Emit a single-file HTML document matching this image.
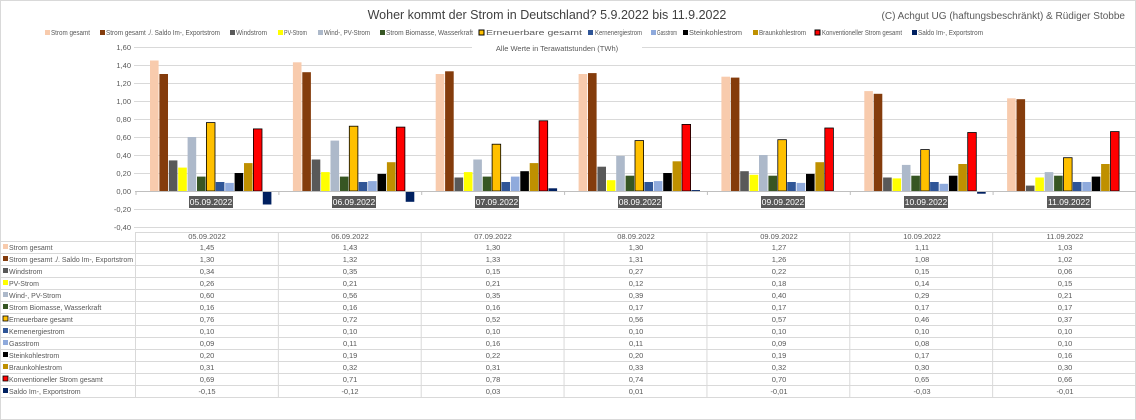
<!DOCTYPE html>
<html><head><meta charset="utf-8"><style>
body{margin:0;background:#fff;}
svg{display:block;font-family:"Liberation Sans",sans-serif;}
</style></head><body>
<svg id="s" width="1136" height="420" viewBox="0 0 1136 420">
<rect x="0.5" y="0.5" width="1135" height="419" fill="#fff" stroke="#d9d9d9"/>
<text x="547" y="19" font-size="12.5" text-anchor="middle" fill="#404040">Woher kommt der Strom in Deutschland? 5.9.2022 bis 11.9.2022</text>
<text x="1125" y="19" font-size="10" text-anchor="end" fill="#595959">(C) Achgut UG (haftungsbeschränkt) &amp; Rüdiger Stobbe</text>
<g font-size="7" fill="#595959" lengthAdjust="spacingAndGlyphs">
<rect x="45" y="30" width="5" height="5" fill="#F8CBAD"/><text x="51" y="35" textLength="39" lengthAdjust="spacingAndGlyphs">Strom gesamt</text>
<rect x="100" y="30" width="5" height="5" fill="#843C0C"/><text x="106" y="35" textLength="114" lengthAdjust="spacingAndGlyphs">Strom gesamt ./. Saldo Im-, Exportstrom</text>
<rect x="230" y="30" width="5" height="5" fill="#595959"/><text x="236" y="35" textLength="31" lengthAdjust="spacingAndGlyphs">Windstrom</text>
<rect x="278" y="30" width="5" height="5" fill="#FFFF00"/><text x="284" y="35" textLength="23" lengthAdjust="spacingAndGlyphs">PV-Strom</text>
<rect x="318" y="30" width="5" height="5" fill="#ADB9CA"/><text x="324" y="35" textLength="46" lengthAdjust="spacingAndGlyphs">Wind-, PV-Strom</text>
<rect x="380" y="30" width="5" height="5" fill="#375623"/><text x="386" y="35" textLength="87" lengthAdjust="spacingAndGlyphs">Strom Biomasse, Wasserkraft</text>
<rect x="479" y="30" width="5" height="5" fill="#FFC000" stroke="#000"/><text x="486" y="35" textLength="96" lengthAdjust="spacingAndGlyphs">Erneuerbare gesamt</text>
<rect x="588" y="30" width="5" height="5" fill="#2F5597"/><text x="595" y="35" textLength="47" lengthAdjust="spacingAndGlyphs">Kernenergiestrom</text>
<rect x="651" y="30" width="5" height="5" fill="#8FAADC"/><text x="657" y="35" textLength="20" lengthAdjust="spacingAndGlyphs">Gasstrom</text>
<rect x="683" y="30" width="5" height="5" fill="#000"/><text x="689" y="35" textLength="53" lengthAdjust="spacingAndGlyphs">Steinkohlestrom</text>
<rect x="753" y="30" width="5" height="5" fill="#BF9000"/><text x="759" y="35" textLength="47" lengthAdjust="spacingAndGlyphs">Braunkohlestrom</text>
<rect x="815" y="30" width="5" height="5" fill="#FF0000" stroke="#000"/><text x="822" y="35" textLength="80" lengthAdjust="spacingAndGlyphs">Konventioneller Strom gesamt</text>
<rect x="912" y="30" width="5" height="5" fill="#002060"/><text x="918" y="35" textLength="65" lengthAdjust="spacingAndGlyphs">Saldo Im-, Exportstrom</text>
</g>
<g stroke="#d9d9d9" stroke-width="1">
<line x1="134" y1="47.5" x2="1136" y2="47.5"/><line x1="134" y1="65.5" x2="1136" y2="65.5"/>
<line x1="134" y1="83.5" x2="1136" y2="83.5"/><line x1="134" y1="101.5" x2="1136" y2="101.5"/>
<line x1="134" y1="119.5" x2="1136" y2="119.5"/><line x1="134" y1="137.5" x2="1136" y2="137.5"/>
<line x1="134" y1="155.5" x2="1136" y2="155.5"/><line x1="134" y1="173.5" x2="1136" y2="173.5"/>
<line x1="134" y1="209.5" x2="1136" y2="209.5"/><line x1="134" y1="227.5" x2="1136" y2="227.5"/>
</g>
<rect x="472" y="43" width="170" height="10" fill="#fff"/>
<text x="557" y="51" font-size="7.5" text-anchor="middle" fill="#595959">Alle Werte in Terawattstunden (TWh)</text>
<g font-size="7.5" fill="#595959" text-anchor="end">
<text x="131" y="50">1,60</text><text x="131" y="68">1,40</text><text x="131" y="86">1,20</text>
<text x="131" y="104">1,00</text><text x="131" y="122">0,80</text><text x="131" y="140">0,60</text>
<text x="131" y="158">0,40</text><text x="131" y="176">0,20</text><text x="131" y="194">0,00</text>
<text x="131" y="212">-0,20</text><text x="131" y="230">-0,40</text>
</g>
<g id="bars"></g>
<line x1="135" y1="191.5" x2="1136" y2="191.5" stroke="#bfbfbf"/>
<g fill="#595959">
<rect x="189" y="196" width="44" height="12"/><rect x="332" y="196" width="44" height="12"/>
<rect x="475" y="196" width="44" height="12"/><rect x="618" y="196" width="44" height="12"/>
<rect x="761" y="196" width="44" height="12"/><rect x="904" y="196" width="44" height="12"/>
<rect x="1047" y="196" width="44" height="12"/>
</g>
<g font-size="8.5" fill="#fff" text-anchor="middle">
<text x="211" y="205">05.09.2022</text><text x="354" y="205">06.09.2022</text><text x="497" y="205">07.09.2022</text>
<text x="640" y="205">08.09.2022</text><text x="783" y="205">09.09.2022</text><text x="926" y="205">10.09.2022</text>
<text x="1069" y="205">11.09.2022</text>
</g>
<g id="grid" stroke="#d9d9d9"></g>
<g font-size="7.5" fill="#595959">
<text x="207" y="239" text-anchor="middle">05.09.2022</text><text x="350" y="239" text-anchor="middle">06.09.2022</text>
<text x="493" y="239" text-anchor="middle">07.09.2022</text><text x="636" y="239" text-anchor="middle">08.09.2022</text>
<text x="779" y="239" text-anchor="middle">09.09.2022</text><text x="922" y="239" text-anchor="middle">10.09.2022</text>
<text x="1065" y="239" text-anchor="middle">11.09.2022</text>
</g>
<g id="tbl" font-size="7.5" fill="#595959">
<g font-size="7">
<text x="9" y="250">Strom gesamt</text>
<text x="9" y="262" textLength="124" lengthAdjust="spacingAndGlyphs">Strom gesamt ./. Saldo Im-, Exportstrom</text>
<text x="9" y="274">Windstrom</text>
<text x="9" y="286">PV-Strom</text>
<text x="9" y="298">Wind-, PV-Strom</text>
<text x="9" y="310">Strom Biomasse, Wasserkraft</text>
<text x="9" y="322">Erneuerbare gesamt</text>
<text x="9" y="334">Kernenergiestrom</text>
<text x="9" y="346">Gasstrom</text>
<text x="9" y="358">Steinkohlestrom</text>
<text x="9" y="370">Braunkohlestrom</text>
<text x="9" y="382">Konventioneller Strom gesamt</text>
<text x="9" y="394">Saldo Im-, Exportstrom</text>
</g>
<g text-anchor="middle">
<text x="207" y="250">1,45</text><text x="350" y="250">1,43</text><text x="493" y="250">1,30</text><text x="636" y="250">1,30</text><text x="779" y="250">1,27</text><text x="922" y="250">1,11</text><text x="1065" y="250">1,03</text>
<text x="207" y="262">1,30</text><text x="350" y="262">1,32</text><text x="493" y="262">1,33</text><text x="636" y="262">1,31</text><text x="779" y="262">1,26</text><text x="922" y="262">1,08</text><text x="1065" y="262">1,02</text>
<text x="207" y="274">0,34</text><text x="350" y="274">0,35</text><text x="493" y="274">0,15</text><text x="636" y="274">0,27</text><text x="779" y="274">0,22</text><text x="922" y="274">0,15</text><text x="1065" y="274">0,06</text>
<text x="207" y="286">0,26</text><text x="350" y="286">0,21</text><text x="493" y="286">0,21</text><text x="636" y="286">0,12</text><text x="779" y="286">0,18</text><text x="922" y="286">0,14</text><text x="1065" y="286">0,15</text>
<text x="207" y="298">0,60</text><text x="350" y="298">0,56</text><text x="493" y="298">0,35</text><text x="636" y="298">0,39</text><text x="779" y="298">0,40</text><text x="922" y="298">0,29</text><text x="1065" y="298">0,21</text>
<text x="207" y="310">0,16</text><text x="350" y="310">0,16</text><text x="493" y="310">0,16</text><text x="636" y="310">0,17</text><text x="779" y="310">0,17</text><text x="922" y="310">0,17</text><text x="1065" y="310">0,17</text>
<text x="207" y="322">0,76</text><text x="350" y="322">0,72</text><text x="493" y="322">0,52</text><text x="636" y="322">0,56</text><text x="779" y="322">0,57</text><text x="922" y="322">0,46</text><text x="1065" y="322">0,37</text>
<text x="207" y="334">0,10</text><text x="350" y="334">0,10</text><text x="493" y="334">0,10</text><text x="636" y="334">0,10</text><text x="779" y="334">0,10</text><text x="922" y="334">0,10</text><text x="1065" y="334">0,10</text>
<text x="207" y="346">0,09</text><text x="350" y="346">0,11</text><text x="493" y="346">0,16</text><text x="636" y="346">0,11</text><text x="779" y="346">0,09</text><text x="922" y="346">0,08</text><text x="1065" y="346">0,10</text>
<text x="207" y="358">0,20</text><text x="350" y="358">0,19</text><text x="493" y="358">0,22</text><text x="636" y="358">0,20</text><text x="779" y="358">0,19</text><text x="922" y="358">0,17</text><text x="1065" y="358">0,16</text>
<text x="207" y="370">0,31</text><text x="350" y="370">0,32</text><text x="493" y="370">0,31</text><text x="636" y="370">0,33</text><text x="779" y="370">0,32</text><text x="922" y="370">0,30</text><text x="1065" y="370">0,30</text>
<text x="207" y="382">0,69</text><text x="350" y="382">0,71</text><text x="493" y="382">0,78</text><text x="636" y="382">0,74</text><text x="779" y="382">0,70</text><text x="922" y="382">0,65</text><text x="1065" y="382">0,66</text>
<text x="207" y="394">-0,15</text><text x="350" y="394">-0,12</text><text x="493" y="394">0,03</text><text x="636" y="394">0,01</text><text x="779" y="394">-0,01</text><text x="922" y="394">-0,03</text><text x="1065" y="394">-0,01</text>
</g>
</g>
<g id="sw"></g>
</svg>
<script>
var ns="http://www.w3.org/2000/svg";
function el(p,t,a){var e=document.createElementNS(ns,t);for(var k in a)e.setAttribute(k,a[k]);p.appendChild(e);return e;}
var cols=["#F8CBAD","#843C0C","#595959","#FFFF00","#ADB9CA","#375623","#FFC000","#2F5597","#8FAADC","#000000","#BF9000","#FF0000","#002060"];
var strk=[0,0,0,0,0,0,1,0,0,0,0,1,0];
var d=[[1.45,1.30,0.34,0.26,0.60,0.16,0.76,0.10,0.09,0.20,0.31,0.69,-0.15],
[1.43,1.32,0.35,0.21,0.56,0.16,0.72,0.10,0.11,0.19,0.32,0.71,-0.12],
[1.30,1.33,0.15,0.21,0.35,0.16,0.52,0.10,0.16,0.22,0.31,0.78,0.03],
[1.30,1.31,0.27,0.12,0.39,0.17,0.56,0.10,0.11,0.20,0.33,0.74,0.01],
[1.27,1.26,0.22,0.18,0.40,0.17,0.57,0.10,0.09,0.19,0.32,0.70,-0.01],
[1.11,1.08,0.15,0.14,0.29,0.17,0.46,0.10,0.08,0.17,0.30,0.65,-0.03],
[1.03,1.02,0.06,0.15,0.21,0.17,0.37,0.10,0.10,0.16,0.30,0.66,-0.01]];
var b=document.getElementById("bars"),z=191,u=90,cw=1000/7;
for(var c=0;c<7;c++){for(var i=0;i<13;i++){var v=d[c][i],x=136+c*cw+14+i*9.4,h=Math.abs(v)*u,y=v>=0?z-h:z;
var a={x:x.toFixed(1),y:y.toFixed(1),width:8.6,height:Math.max(h,0.8).toFixed(1),fill:cols[i]};
if(strk[i]){a.stroke="#000";a["stroke-width"]=0.8;}el(b,"rect",a);}
el(b,"line",{x1:(136+c*cw).toFixed(1),y1:191,x2:(136+c*cw).toFixed(1),y2:195,stroke:"#bfbfbf"});}
var g=document.getElementById("grid");
for(var r=0;r<15;r++){var yy=r==0?232.5:241.5+(r-1)*12;el(g,"line",{x1:r==0?135:0,y1:yy,x2:1136,y2:yy});}
for(var c=0;c<8;c++){var xx=135.5+c*cw;el(g,"line",{x1:xx,y1:232,x2:xx,y2:397.5});}
var sw=document.getElementById("sw");
for(var i=0;i<13;i++){var a={x:3,y:244+i*12,width:5,height:5,fill:cols[i]};if(strk[i]){a.stroke="#000";a["stroke-width"]=0.8;}el(sw,"rect",a);}
</script>
</body></html>
